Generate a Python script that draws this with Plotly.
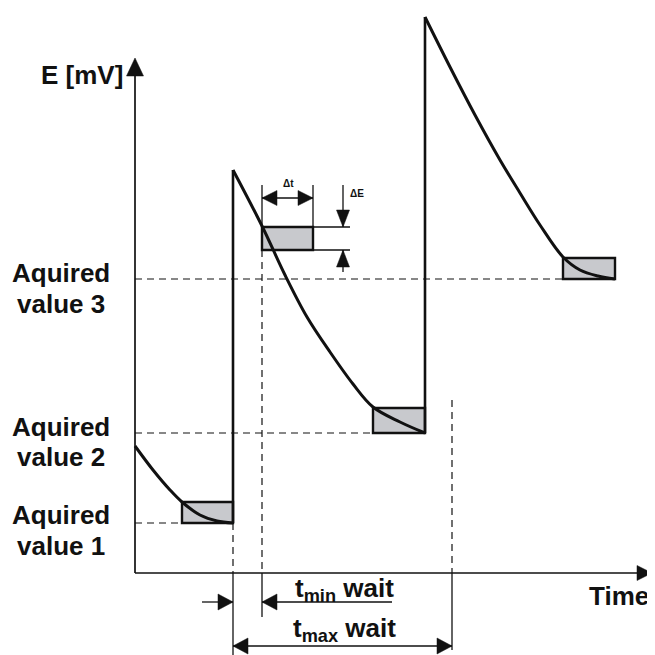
import plotly.graph_objects as go

# ---------------- data (time: arbitrary units, E: mV-like units) ----------------
seg1_t = [0.0, 1.8, 3.5, 4.7, 6.5, 8.2, 9.8]
seg1_E = [12.7, 10.3, 8.3, 7.1, 5.8, 5.2, 5.0]

seg2_t = [9.8, 12.7, 15.0, 17.2, 19.5, 21.8, 23.8, 26.5, 29.0]
seg2_E = [40.3, 34.7, 29.8, 25.6, 22.1, 18.9, 16.6, 15.1, 14.0]

seg3_t = [29.0, 31.5, 34.0, 36.5, 38.5, 40.5, 42.8, 44.5, 46.3, 48.0]
seg3_E = [55.6, 50.6, 45.8, 41.3, 38.0, 34.8, 31.6, 30.3, 29.7, 29.4]

acquired_values = [5.0, 14.0, 29.4]
acquired_labels = ["Aquired<br>value 1", "Aquired<br>value 2", "Aquired<br>value 3"]
window_start = [4.7, 23.8, 42.8]
window_end = [9.8, 29.0, 48.0]
window_top = [7.1, 16.5, 31.5]

delta_t = [12.7, 17.8]      # Δt window (time)
delta_E = [32.3, 34.6]      # ΔE window (E)

t_step = 9.8                # first step time
t_min = 12.7                # t_min wait end
t_max = 31.7                # t_max wait end

axis_t_end = 51.7
axis_E_end = 51.5

# ---------------- figure ----------------
BLACK = "#111111"
GRAY = "#c8c9cd"
FONT = "Liberation Sans, Arial, sans-serif"

fig = go.Figure()
shapes = []


def line(x0, y0, x1, y1, w=1.3, dash=None, layer="above"):
    d = dict(type="line", x0=x0, y0=y0, x1=x1, y1=y1, xref="x", yref="y",
             line=dict(color=BLACK, width=w), layer=layer)
    if dash:
        d["line"]["dash"] = dash
    shapes.append(d)


def tri(tx, ty, direction, L=1.5, W=0.8):
    if direction == "right":
        pts = [(tx, ty), (tx - L, ty + W), (tx - L, ty - W)]
    elif direction == "left":
        pts = [(tx, ty), (tx + L, ty + W), (tx + L, ty - W)]
    elif direction == "up":
        pts = [(tx, ty), (tx - W, ty - L), (tx + W, ty - L)]
    else:
        pts = [(tx, ty), (tx - W, ty + L), (tx + W, ty + L)]
    path = "M " + " L ".join(f"{x},{y}" for x, y in pts) + " Z"
    shapes.append(dict(type="path", path=path, xref="x", yref="y",
                       fillcolor=BLACK, line=dict(color=BLACK, width=0.5), layer="above"))


DASH = "7px,5px"

# acquisition windows (grey boxes)
for s, e, b, t in zip(window_start, window_end, acquired_values, window_top):
    shapes.append(dict(type="rect", x0=s, x1=e, y0=b, y1=t, xref="x", yref="y",
                       fillcolor=GRAY, line=dict(color=BLACK, width=2.4), layer="below"))
shapes.append(dict(type="rect", x0=delta_t[0], x1=delta_t[1], y0=delta_E[0], y1=delta_E[1],
                   xref="x", yref="y", fillcolor=GRAY, line=dict(color=BLACK, width=2.4),
                   layer="below"))

# dashed horizontal levels
for v, s in zip(acquired_values, window_start):
    line(0, v, s, v, w=1.2, dash=DASH, layer="below")

# axes
line(0, 0, 0, axis_E_end - 1.5, w=1.7)
tri(0, axis_E_end, "up", L=1.8, W=0.85)
line(0, 0, axis_t_end - 1.2, 0, w=1.7)
tri(axis_t_end, 0, "right", L=1.5, W=0.75)

# vertical guides
line(t_step, acquired_values[0], t_step, 0, w=1.2, dash=DASH)
line(t_step, 0, t_step, -8.3, w=1.3)
line(t_min, delta_E[0], t_min, 0, w=1.2, dash=DASH)
line(t_min, 0, t_min, -4.4, w=1.3)
line(t_max, 17.3, t_max, 0, w=1.2, dash=DASH)
line(t_max, 0, t_max, -7.7, w=1.3)

# t_min wait arrows
y_min = -2.9
line(6.7, y_min, t_step, y_min)
tri(t_step, y_min, "right")
line(t_min, y_min, 25.7, y_min)
tri(t_min, y_min, "left")

# t_max wait arrow
y_max = -7.3
line(t_step, y_max, t_max, y_max)
tri(t_step, y_max, "left")
tri(t_max, y_max, "right")

# Δt dimension
y_dt = 37.5
line(delta_t[0], delta_E[1], delta_t[0], 38.8)
line(delta_t[1], delta_E[1], delta_t[1], 38.8)
line(delta_t[0], y_dt, delta_t[1], y_dt)
tri(delta_t[0], y_dt, "left", L=1.5, W=0.75)
tri(delta_t[1], y_dt, "right", L=1.5, W=0.75)

# ΔE dimension
x_dE = 20.8
line(delta_t[1], delta_E[1], 21.5, delta_E[1])
line(delta_t[1], delta_E[0], 21.5, delta_E[0])
line(x_dE, 38.8, x_dE, delta_E[1])
tri(x_dE, delta_E[1], "down", L=1.7, W=0.65)
line(x_dE, 30.1, x_dE, delta_E[0])
tri(x_dE, delta_E[0], "up", L=1.7, W=0.65)

# signal curve
for tt, ee in [(seg1_t, seg1_E), (seg2_t, seg2_E), (seg3_t, seg3_E)]:
    fig.add_trace(go.Scatter(x=tt, y=ee, mode="lines",
                             line=dict(color=BLACK, width=3, shape="spline", smoothing=1.0),
                             hoverinfo="skip", showlegend=False))
# potential steps
for ts, lo, hi in [(seg1_t[-1], seg1_E[-1], seg2_E[0]), (seg2_t[-1], seg2_E[-1], seg3_E[0])]:
    fig.add_trace(go.Scatter(x=[ts, ts], y=[lo, hi], mode="lines",
                             line=dict(color=BLACK, width=2.6),
                             hoverinfo="skip", showlegend=False))

annotations = []


def text(x, y, s, size=26, xanchor="center", yanchor="middle"):
    annotations.append(dict(x=x, y=y, xref="x", yref="y", text=s, showarrow=False,
                            xanchor=xanchor, yanchor=yanchor,
                            font=dict(family=FONT, size=size, color=BLACK)))


text(-1.0, 49.8, "<b>E [mV]</b>", xanchor="right")
text(48.4, -2.3, "<b>Time</b>")
# each label line placed separately for the tighter line spacing of the original
label_line_y = [(5.8, 2.7), (14.6, 11.6), (30.0, 26.9)]
for (y1, y2), lab in zip(label_line_y, acquired_labels):
    first, second = lab.split("<br>")
    text(-7.4, y1, f"<b>{first}</b>")
    text(-7.4, y2, f"<b>{second}</b>")
text(20.9, -1.6, "<b>t<sub>min</sub> wait</b>")
text(20.9, -5.6, "<b>t<sub>max</sub> wait</b>")
text(15.3, 39.0, "<b>Δt</b>", size=10)
text(22.2, 38.0, "<b>ΔE</b>", size=10)

# The page body adds an 8 px offset, so the figure is 647 px and the ranges
# are chosen so that the screen keeps 10 px per unit with the origin at (135, 573).
fig.update_layout(
    width=647, height=647, autosize=False,
    margin=dict(l=0, r=0, t=0, b=0),
    paper_bgcolor="white", plot_bgcolor="white",
    xaxis=dict(range=[-12.7, 52.0], visible=False, fixedrange=True),
    yaxis=dict(range=[-8.2, 56.5], visible=False, fixedrange=True),
    shapes=shapes, annotations=annotations, showlegend=False,
)

fig.write_html("out.html")
